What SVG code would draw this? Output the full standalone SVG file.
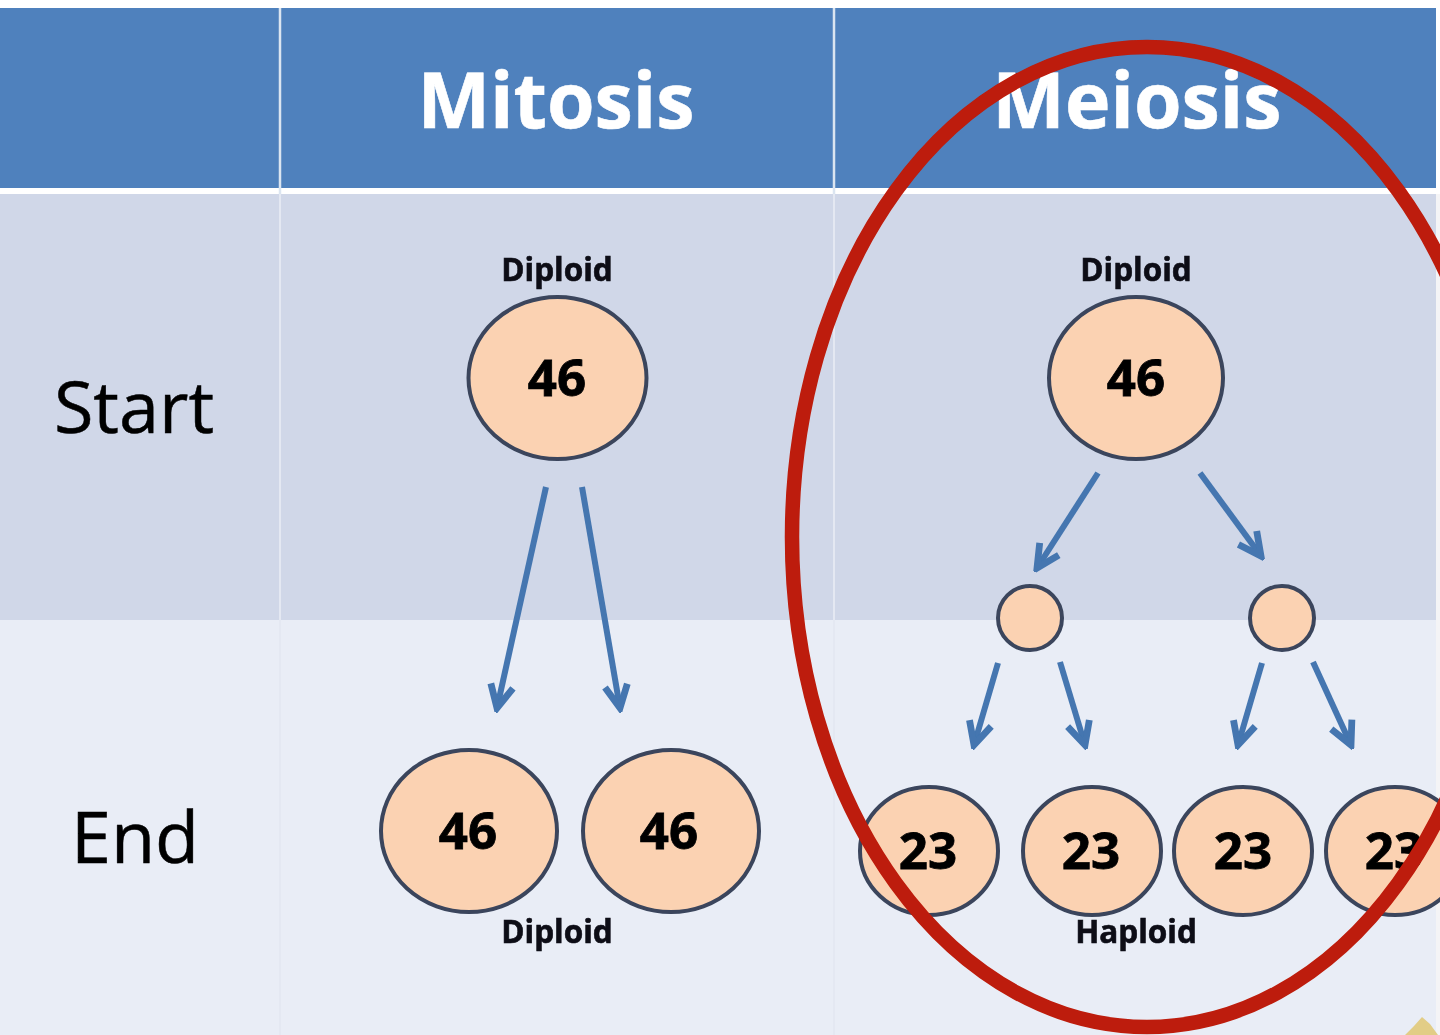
<svg xmlns="http://www.w3.org/2000/svg" width="1440" height="1035" viewBox="0 0 1440 1035">
<style>
text{font-family:"Open Sans","Noto Sans","Liberation Sans",sans-serif;text-anchor:middle}
.h{font-size:77px;font-weight:700;fill:#fff;stroke:#fff;stroke-width:.6}
.r{font-size:72px;fill:#000;stroke:#000;stroke-width:.5}
.s{font-size:31.5px;font-weight:700;fill:#0b0b14;stroke:#0b0b14;stroke-width:.6}
.n{font-size:51px;font-weight:700;fill:#000;stroke:#000;stroke-width:.8}
.c{fill:#fbd2b2;stroke:#3a455c;stroke-width:4}
.a{fill:none;stroke:#4476b0;stroke-width:6}
.soft{filter:url(#soft)}
</style>
<defs>
<filter id="soft" x="-20" y="-20" width="1480" height="1075" filterUnits="userSpaceOnUse"><feGaussianBlur stdDeviation="0.55"/></filter>
<marker id="ah" markerUnits="userSpaceOnUse" markerWidth="34" markerHeight="34" refX="26" refY="15" orient="auto" viewBox="0 0 30 30"><path d="M6 5L26 15L6 25" fill="none" stroke="#4476b0" stroke-width="6"/></marker>
</defs>
<rect width="1440" height="1035" fill="#fff"/>
<g class="soft">
<g id="table">
<rect x="-20" y="8" width="1456" height="180" fill="#4f81bd"/>
<rect x="-20" y="194" width="1456" height="426" fill="#d0d7e8"/>
<rect x="-20" y="620" width="1456" height="435" fill="#e9edf6"/>
<rect x="1436" y="194" width="24" height="861" fill="#f4f4f6"/>
<path d="M280 8V194M834 8V194" stroke="#dbe5f1" stroke-width="2.5" fill="none"/>
<path d="M280 194V1055M834 194V1055" stroke="#e4e8f2" stroke-width="2" fill="none"/>
<text class="h" x="556" y="128">Mitosis</text>
<text class="h" x="1137" y="128">Meiosis</text>
<text class="r" x="134" y="433">Start</text>
<text class="r" x="135" y="863">End</text>
</g>
<g id="connectors">
<path class="a" marker-end="url(#ah)" d="M546 487L497 708"/>
<path class="a" marker-end="url(#ah)" d="M582 487L620 708"/>
<path class="a" marker-end="url(#ah)" d="M1098 473L1037 568"/>
<path class="a" marker-end="url(#ah)" d="M1200 473L1261 556"/>
<path class="a" marker-end="url(#ah)" d="M998 663L974 745"/>
<path class="a" marker-end="url(#ah)" d="M1060 662L1085 745"/>
<path class="a" marker-end="url(#ah)" d="M1262 663L1238 745"/>
<path class="a" marker-end="url(#ah)" d="M1313 662L1351 745"/>
</g>
<g id="mitosis-start"><ellipse class="c" cx="557.500" cy="378" rx="89" ry="81"/><text class="n" x="557" y="396">46</text><text class="s" x="557" y="281">Diploid</text></g>
<g id="mitosis-end-1"><ellipse class="c" cx="469" cy="831" rx="88" ry="81"/><text class="n" x="468" y="849">46</text></g>
<g id="mitosis-end-2"><ellipse class="c" cx="671" cy="831" rx="88" ry="81"/><text class="n" x="669" y="849">46</text></g>
<text class="s" x="557" y="943">Diploid</text>
<g id="meiosis-start"><ellipse class="c" cx="1136" cy="378" rx="87" ry="81"/><text class="n" x="1136" y="396">46</text><text class="s" x="1136" y="281">Diploid</text></g>
<g id="meiosis-mid-1"><circle class="c" cx="1030" cy="618" r="32"/></g>
<g id="meiosis-mid-2"><circle class="c" cx="1282" cy="618" r="32"/></g>
<g id="meiosis-end-1"><ellipse class="c" cx="929" cy="851" rx="69" ry="64"/><text class="n" x="928" y="869">23</text></g>
<g id="meiosis-end-2"><ellipse class="c" cx="1092" cy="851" rx="69" ry="64"/><text class="n" x="1091" y="869">23</text></g>
<g id="meiosis-end-3"><ellipse class="c" cx="1243" cy="851" rx="69" ry="64"/><text class="n" x="1243" y="869">23</text></g>
<g id="meiosis-end-4"><ellipse class="c" cx="1395" cy="851" rx="69" ry="64"/><text class="n" x="1394" y="869">23</text></g>
<text class="s" x="1136" y="943">Haploid</text>
<ellipse id="highlight" cx="1147" cy="537" rx="355" ry="490" fill="none" stroke="#bd1b09" stroke-width="14.500"/>
<path id="corner-mark" d="M1405 1055V1035L1414 1026L1422 1017L1430 1024L1438 1035V1055Z" fill="#e2cd86"/>
</g>
</svg>
